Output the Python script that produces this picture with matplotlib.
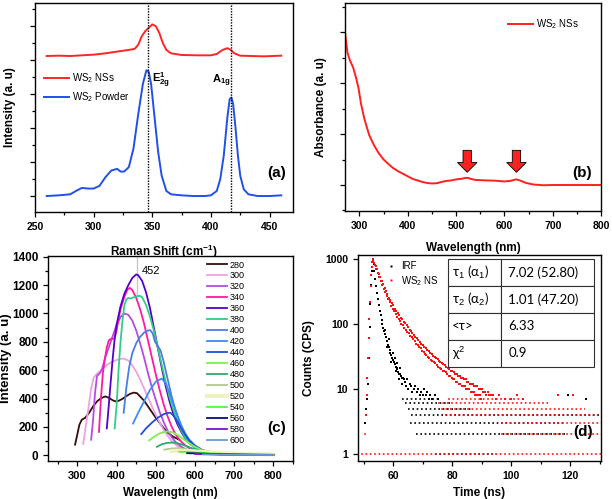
import numpy as np
import matplotlib
matplotlib.use('Agg')
import matplotlib.pyplot as plt
from matplotlib.ticker import MultipleLocator, FixedLocator, FixedFormatter, NullLocator, NullFormatter
from matplotlib.lines import Line2D

plt.rcParams['font.family'] = ['Liberation Sans', 'DejaVu Sans']
plt.rcParams['mathtext.fontset'] = 'custom'
plt.rcParams['mathtext.rm'] = 'Liberation Sans'
plt.rcParams['mathtext.it'] = 'Liberation Sans:italic'
plt.rcParams['mathtext.bf'] = 'Liberation Sans:bold'

# ---------------- (a) Raman ----------------
raman_x_powder = [260, 270, 280, 285, 290, 295, 300, 305, 310, 315, 320, 323, 326, 330, 334, 338, 342, 345, 347, 349,
                  352, 355, 358, 362, 366, 375, 385, 395, 400, 405, 408, 411, 414, 416, 417.5, 419, 421, 423, 425,
                  428, 432, 440, 450, 460]
raman_y_powder = [0.0, 0.02, 0.05, 0.15, 0.24, 0.22, 0.22, 0.3, 0.55, 0.75, 0.8, 0.72, 0.72, 0.85, 1.4, 2.4, 3.3, 3.7,
                  3.65, 3.3, 2.3, 1.3, 0.6, 0.15, 0.05, 0.02, 0.0, 0.0, 0.02, 0.15, 0.5, 1.2, 2.3, 2.85, 2.9, 2.7, 2.0,
                  1.2, 0.6, 0.2, 0.05, 0.0, 0.0, 0.02]
raman_x_ns = [260, 270, 280, 290, 300, 310, 320, 330, 335, 338, 341, 344, 347, 350, 353, 356, 359, 362, 366, 375,
              390, 400, 405, 410, 414, 417, 420, 425, 435, 445, 460]
raman_y_ns = [4.12, 4.13, 4.12, 4.14, 4.16, 4.2, 4.25, 4.3, 4.33, 4.45, 4.7, 4.85, 4.95, 5.05, 5.0, 4.8, 4.5, 4.3,
              4.2, 4.15, 4.14, 4.14, 4.18, 4.3, 4.35, 4.3, 4.2, 4.13, 4.12, 4.11, 4.13]
raman_modes = [346, 417]

# ---------------- (b) Absorbance ----------------
abs_wl = [270, 275, 280, 287, 293, 298, 303, 310, 320, 330, 340, 350, 360, 370, 380, 390, 400, 410, 420, 430, 440,
          450, 460, 470, 480, 490, 500, 510, 520, 525, 530, 540, 560, 580, 600, 612, 620, 625, 632, 645, 660, 680,
          700, 750, 800]
abs_val = [3.0, 2.6, 2.45, 2.3, 2.1, 1.9, 1.6, 1.3, 0.98, 0.78, 0.62, 0.5, 0.41, 0.33, 0.27, 0.22, 0.17, 0.12, 0.09,
           0.06, 0.04, 0.03, 0.035, 0.06, 0.08, 0.09, 0.11, 0.12, 0.14, 0.14, 0.12, 0.1, 0.09, 0.085, 0.07, 0.08,
           0.1, 0.11, 0.09, 0.04, 0.01, -0.005, 0.0, 0.0, 0.0]
abs_peaks = [523, 625]

# ---------------- (c) PL spectra ----------------
exc_labels = ['280', '300', '320', '340', '360', '380', '400', '420', '440', '460', '480', '500', '520', '540',
              '560', '580', '600']
exc_colors = ['#3b0b0b', '#eea2e2', '#b44ce0', '#ff1aa0', '#5500c8', '#33cc88', '#4a7ee0', '#3b8cf5', '#1f4fd8',
              '#7cf050', '#2eaa6a', '#b0c890', '#f0f2c4', '#4cff3c', '#0a0a80', '#7d0fd0', '#6a9ad0']

wl_280 = [294, 300, 305, 311, 320, 330, 340, 350, 360, 371, 380, 390, 398, 405, 415, 425, 435, 444, 452, 460, 470,
          480, 490, 500, 510, 520, 530, 545, 560]
pl_280 = [75, 150, 215, 250, 265, 300, 345, 380, 402, 415, 406, 388, 380, 384, 398, 418, 434, 442, 438, 415, 385,
          345, 305, 265, 228, 192, 160, 130, 110]
wl_300 = [315, 320, 328, 335, 342, 350, 360, 370, 380, 390, 400, 410, 418, 430, 440, 450, 460, 470, 480, 490, 500,
          510, 520, 530, 540, 555, 570, 590, 620]
pl_300 = [80, 180, 330, 470, 550, 575, 600, 625, 645, 660, 672, 680, 682, 668, 635, 590, 535, 472, 408, 345, 285,
          230, 180, 138, 102, 65, 40, 20, 8]
wl_320 = [335, 340, 345, 350, 356, 362, 370, 380, 390, 400, 410, 420, 430, 440, 450, 460, 470, 480, 490, 500, 510,
          520, 530, 540, 550, 565, 580, 600, 630, 670]
pl_320 = [110, 250, 440, 560, 575, 600, 680, 760, 840, 920, 975, 1000, 990, 950, 880, 790, 690, 580, 480, 390, 305,
          235, 175, 130, 95, 60, 38, 20, 9, 4]
wl_340 = [355, 360, 365, 370, 375, 380, 385, 390, 395, 400, 405, 410, 420, 428, 434, 440, 450, 460, 470, 480, 490,
          500, 510, 520, 530, 540, 550, 560, 575, 590, 610, 640, 680, 720]
pl_340 = [165, 400, 580, 680, 760, 810, 820, 822, 825, 880, 960, 1030, 1120, 1170, 1180, 1165, 1110, 1030, 930, 810,
          690, 570, 460, 360, 275, 205, 150, 110, 70, 42, 22, 10, 4, 2]
wl_360 = [375, 380, 385, 390, 395, 400, 410, 420, 430, 440, 450, 455, 465, 475, 485, 495, 505, 515, 525, 535, 545,
          555, 565, 575, 590, 610, 630, 660, 700, 750]
pl_360 = [190, 350, 520, 680, 820, 920, 1050, 1140, 1200, 1250, 1275, 1270, 1230, 1150, 1040, 900, 760, 620, 490,
          380, 290, 220, 165, 120, 75, 40, 22, 10, 4, 2]
wl_380 = [395, 400, 405, 410, 415, 420, 425, 430, 435, 440, 450, 458, 465, 475, 485, 495, 505, 515, 525, 535, 545,
          555, 565, 575, 590, 610, 630, 660, 700, 750]
pl_380 = [190, 350, 600, 800, 950, 1060, 1100, 1110, 1105, 1110, 1120, 1125, 1115, 1060, 980, 880, 760, 640, 520,
          410, 320, 240, 175, 125, 75, 40, 22, 10, 5, 3]
wl_400 = [418, 425, 432, 440, 450, 460, 470, 480, 486, 492, 498, 505, 512, 520, 530, 540, 550, 560, 570, 580, 595,
          615, 640, 680, 730]
pl_400 = [300, 480, 620, 720, 790, 835, 865, 880, 882, 860, 800, 770, 740, 660, 540, 420, 320, 240, 175, 125, 75, 38,
          18, 7, 3]
wl_420 = [442, 455, 470, 485, 500, 515, 525, 535, 545, 555, 565, 575, 585, 600, 620, 645, 680, 740]
pl_420 = [224, 300, 380, 460, 520, 541, 510, 440, 360, 280, 210, 155, 112, 70, 36, 16, 7, 3]
wl_440 = [463, 475, 490, 505, 520, 530, 537, 545, 555, 565, 575, 585, 600, 620, 650, 700, 760]
pl_440 = [150, 190, 230, 265, 290, 298, 300, 280, 240, 190, 145, 105, 65, 35, 15, 5, 2]
wl_460 = [483, 495, 510, 525, 540, 555, 570, 585, 600, 620, 650, 700, 760]
pl_460 = [105, 130, 155, 168, 165, 145, 115, 85, 60, 35, 17, 6, 2]
wl_480 = [503, 515, 530, 545, 560, 575, 590, 610, 640, 680, 740]
pl_480 = [60, 78, 88, 90, 82, 68, 52, 35, 18, 8, 3]
wl_500 = [522, 540, 555, 570, 590, 620, 660, 720, 800]
pl_500 = [40, 48, 50, 46, 38, 25, 12, 5, 2]
wl_520 = [540, 560, 580, 600, 640, 680, 720, 760, 800]
pl_520 = [30, 32, 30, 27, 20, 14, 10, 8, 6]
wl_540 = [560, 580, 600, 640, 680, 720, 760, 800]
pl_540 = [25, 24, 20, 14, 10, 8, 6, 5]
wl_560 = [580, 600, 640, 680, 720, 760, 800]
pl_560 = [15, 14, 10, 7, 5, 4, 3]
wl_580 = [600, 640, 680, 720, 760, 800]
pl_580 = [10, 8, 6, 4, 3, 2]
wl_600 = [620, 660, 700, 740, 800]
pl_600 = [6, 5, 4, 3, 2]
pl_peak = 452

# ---------------- (d) TCSPC ----------------
irf_t = [50.4, 50.8, 51.1, 51.4, 51.7, 52.0, 52.2, 52.4, 52.6, 52.8, 53.0, 53.3, 53.6, 53.9, 54.2, 54.5, 54.8, 55.1,
         55.4, 55.7, 56.0, 56.3, 56.6, 56.9, 57.2, 57.3, 57.5, 57.8, 57.9, 58.1, 58.4, 58.6, 58.7, 59.0, 59.2, 59.3,
         59.6, 59.8, 59.9, 60.2, 60.4, 60.5, 60.8, 60.9, 61.1, 61.3, 61.4, 61.7, 61.9, 62.0, 62.3, 62.4, 62.6, 62.9,
         63.0, 63.2, 63.5, 63.8, 64.2, 64.6, 65.0, 65.5, 66.0, 66.5, 67.0, 67.5, 68.0, 68.5, 69.0, 69.5, 70.0, 70.5,
         71.0, 71.5, 72.0, 72.5, 73.0, 74.0, 75.0, 119.2, 125.3]
irf_c = [3, 5, 7, 12, 30, 90, 200, 400, 650, 900, 1000, 850, 650, 500, 380, 300, 240, 195, 160, 135, 115, 100, 88, 78,
         70, 80, 62, 55, 45, 48, 44, 58, 40, 36, 26, 33, 30, 36, 28, 26, 30, 24, 22, 19, 21, 25, 20, 18, 14, 17, 17,
         21, 16, 15, 12, 15, 14, 13, 11, 14, 10, 12, 11, 9, 10, 11, 9, 10, 8, 9, 8, 10, 8, 9, 7, 8, 7, 8, 7, 8, 7]
ns_t = [50.6, 50.9, 51.2, 51.5, 51.7, 51.9, 52.1, 52.3, 52.5, 52.7, 52.85, 53.0, 53.25, 53.5, 53.75, 54.0, 54.25,
        54.5, 54.75, 55.0, 55.25, 55.5, 55.75, 56.0, 56.25, 56.5, 56.75, 57.0, 57.25, 57.5, 57.75, 58.0, 58.25, 58.5,
        58.75, 59.0, 59.25, 59.5, 59.75, 60.0, 60.25, 60.5, 60.75, 61.0, 61.25, 61.5, 61.75, 62.0, 62.25, 62.5, 62.75,
        63.0, 63.25, 63.5, 63.75, 64.0, 64.25, 64.5, 64.75, 65.0, 65.25, 65.5, 65.75, 66.0, 66.25, 66.5, 66.75, 67.0,
        67.25, 67.5, 67.75, 68.0, 68.25, 68.5, 68.75, 69.0, 69.25, 69.5, 69.75, 70.0, 70.25, 70.5, 70.75, 71.0,
        71.25, 71.5, 71.75, 72.0, 72.25, 72.5, 72.75, 73.0, 73.25, 73.5, 73.75, 74.0, 74.25, 74.5, 74.75, 75.0,
        75.25, 75.5, 75.75, 76.0, 76.25, 76.5, 76.75, 77.0, 77.25, 77.5, 77.75, 78.0, 78.25, 78.5, 78.75, 79.0,
        79.25, 79.5, 79.75, 80.0, 80.25, 80.5, 80.75, 81.0, 81.25, 81.5, 81.75, 82.0, 82.25, 82.5, 82.75, 83.0,
        83.25, 83.5, 83.75, 84.0, 84.25, 84.5, 84.75, 85.0, 85.25, 85.5, 85.75, 86.0, 86.25, 86.5, 86.75, 87.0,
        87.25, 87.5, 87.75, 88.0, 88.25, 88.5, 88.75, 89.0, 89.25, 89.5, 89.75, 90.0, 90.5, 91.0, 91.5, 92.0, 92.5,
        93.0, 94.0, 95.0, 96.0, 98.0, 100.0, 102.0, 104.0, 116.0, 121.0]
ns_c = [4, 8, 15, 30, 60, 120, 220, 380, 560, 760, 900, 1000, 930, 880, 800, 780, 700, 690, 610, 590, 530, 520, 460,
        450, 400, 410, 350, 360, 310, 320, 270, 290, 240, 255, 215, 235, 190, 210, 170, 195, 160, 170, 140, 160, 130,
        145, 118, 138, 110, 125, 100, 118, 95, 108, 88, 102, 82, 95, 76, 90, 72, 82, 66, 78, 62, 72, 58, 68, 55, 63,
        50, 60, 48, 56, 44, 53, 42, 49, 39, 47, 37, 44, 35, 42, 33, 40, 31, 38, 30, 36, 28, 34, 27, 32, 26, 31, 25,
        30, 23, 29, 22, 27, 21, 26, 20, 25, 19, 24, 19, 23, 18, 22, 17, 21, 16, 20, 16, 19, 15, 19, 14, 18, 14, 17,
        13, 17, 13, 16, 12, 16, 12, 15, 11, 15, 11, 14, 11, 14, 10, 13, 10, 13, 10, 12, 9, 12, 9, 12, 9, 11, 8, 11, 8,
        11, 8, 10, 8, 10, 7, 10, 9, 9, 8, 9, 8, 8, 8, 7, 8, 7, 7, 8, 7, 8, 8]
# low-count floor levels: count, start time, end time
irf_floor_c = [1, 2, 3, 4, 5, 6, 7]
irf_floor_t0 = [74.0, 67.8, 65.5, 66.0, 65.0, 64.0, 63.0]
irf_floor_t1 = [95.0, 118.6, 118.6, 130.5, 87.0, 80.0, 76.0]
ns_floor_c = [1, 2, 2, 3, 3, 4, 5, 6, 7]
ns_floor_t0 = [48.5, 49.5, 96.0, 49.5, 96.0, 77.0, 75.5, 74.5, 78.0]
ns_floor_t1 = [130.5, 51.0, 130.5, 51.5, 130.5, 130.5, 125.0, 113.0, 105.0]
fit_rows = [['τ$_1$ (α$_1$)', '7.02 (52.80)'],
            ['τ$_2$ (α$_2$)', '1.01 (47.20)'],
            ['<τ>', '6.33'],
            ['χ$^2$', '0.9']]

# ======================================================
W, H = 612, 499
fig = plt.figure(figsize=(W / 100, H / 100), dpi=100)


def px_axes(l, t, r, b):
    return fig.add_axes([l / W, 1 - b / H, (r - l) / W, (b - t) / H])


TICK = 7.5
LAB = 8.5
BOLD = 'bold'


def style(ax, xsize=TICK, ysize=TICK):
    for s in ax.spines.values():
        s.set_linewidth(1.0)
    ax.tick_params(which='both', direction='out', top=False, right=False, width=0.9)
    ax.tick_params(which='major', length=3.5)
    ax.tick_params(axis='x', which='major', labelsize=xsize)
    ax.tick_params(axis='y', which='major', labelsize=ysize)
    ax.tick_params(which='minor', length=2)
    for lab in ax.get_xticklabels() + ax.get_yticklabels():
        lab.set_fontweight(BOLD)


# ---- (a)
axa = px_axes(35, 3, 293, 212)
axa.plot(raman_x_ns, raman_y_ns, color='#ff2525', lw=1.4, label='WS$_2$ NSs')
axa.plot(raman_x_powder, raman_y_powder, color='#2050e6', lw=1.4, label='WS$_2$ Powder')
for m in raman_modes:
    axa.axvline(m, color='black', ls=(0, (1, 1)), lw=1.0)
axa.set_xlim(250, 470)
axa.set_ylim(-0.47, 5.68)
axa.xaxis.set_major_locator(MultipleLocator(50))
axa.xaxis.set_minor_locator(MultipleLocator(25))
axa.yaxis.set_major_locator(MultipleLocator(1))
axa.yaxis.set_minor_locator(MultipleLocator(0.5))
axa.yaxis.set_major_formatter(NullFormatter())
style(axa)
axa.set_xlabel('Raman Shift (cm$\\mathbf{^{-1}}$)', fontsize=LAB, fontweight=BOLD)
axa.set_ylabel('Intensity (a. u)', fontsize=LAB, fontweight=BOLD)
axa.xaxis.set_label_coords(0.5, -0.145)
axa.yaxis.set_label_coords(-0.075, 0.5)
axa.text(350, 3.4, '$\\mathbf{E^1_{2g}}$', fontsize=8, va='center', ha='left')
axa.text(401, 3.38, '$\\mathbf{A_{1g}}$', fontsize=8, va='center', ha='left')
axa.text(456, 0.68, '(a)', fontsize=11, fontweight=BOLD, ha='center', va='center')
axa.legend(loc='upper left', bbox_to_anchor=(0.02, 0.69), frameon=False, fontsize=7, handlelength=2.6,
           handletextpad=0.3, labelspacing=0.5, borderaxespad=0)

# ---- (b)
axb = px_axes(345, 3, 601, 211)
axb.plot(abs_wl, abs_val, color='#ff2020', lw=1.4, label='WS$_2$ NSs')
for p in abs_peaks:
    axb.annotate('', xy=(p, 0.25), xytext=(p, 0.68),
                 arrowprops=dict(arrowstyle='simple,head_length=0.35,head_width=0.7,tail_width=0.3',
                                 fc='#ff2020', ec='black', lw=0.6, shrinkA=0, shrinkB=0, mutation_scale=20))
axb.set_xlim(270, 800)
axb.set_ylim(-0.51, 3.57)
axb.xaxis.set_major_locator(MultipleLocator(100))
axb.xaxis.set_minor_locator(MultipleLocator(50))
axb.yaxis.set_major_locator(MultipleLocator(1))
axb.yaxis.set_minor_locator(MultipleLocator(0.5))
axb.yaxis.set_major_formatter(NullFormatter())
style(axb)
axb.set_xlabel('Wavelength (nm)', fontsize=LAB, fontweight=BOLD)
axb.set_ylabel('Absorbance (a. u)', fontsize=LAB, fontweight=BOLD)
axb.xaxis.set_label_coords(0.5, -0.15)
axb.yaxis.set_label_coords(-0.072, 0.5)
axb.text(760, 0.235, '(b)', fontsize=11, fontweight=BOLD, ha='center', va='center')
axb.legend(loc='upper left', bbox_to_anchor=(0.62, 0.95), frameon=False, fontsize=7, handlelength=2.6,
           handletextpad=0.3, borderaxespad=0)

# ---- (c)
axc = px_axes(48, 256, 293, 461)
pl_wl = [wl_280, wl_300, wl_320, wl_340, wl_360, wl_380, wl_400, wl_420, wl_440, wl_460, wl_480, wl_500, wl_520,
         wl_540, wl_560, wl_580, wl_600]
pl_int = [pl_280, pl_300, pl_320, pl_340, pl_360, pl_380, pl_400, pl_420, pl_440, pl_460, pl_480, pl_500, pl_520,
          pl_540, pl_560, pl_580, pl_600]
for lab, col, xs, ys in zip(exc_labels, exc_colors, pl_wl, pl_int):
    lw = 3.0 if lab == '520' else 1.3
    axc.plot(xs, ys, color=col, lw=lw, label=lab)
axc.plot([pl_peak, pl_peak], [1140, 1400], color='#c8c8c8', lw=1.0, zorder=0)
axc.text(pl_peak + 12, 1300, str(pl_peak), fontsize=8, ha='left', va='center')
axc.set_xlim(225, 850)
axc.set_ylim(-40, 1405)
axc.xaxis.set_major_locator(MultipleLocator(100))
axc.xaxis.set_minor_locator(MultipleLocator(50))
axc.yaxis.set_major_locator(MultipleLocator(200))
axc.yaxis.set_minor_locator(MultipleLocator(100))
style(axc, xsize=8, ysize=8.5)
axc.set_xlabel('Wavelength (nm)', fontsize=LAB, fontweight=BOLD)
axc.set_ylabel('Intensity (a. u)', fontsize=9.5, fontweight=BOLD)
axc.xaxis.set_label_coords(0.5, -0.125)
axc.yaxis.set_label_coords(-0.148, 0.5)
axc.text(809, 193, '(c)', fontsize=11, fontweight=BOLD, ha='center', va='center')
axc.legend(loc='upper left', bbox_to_anchor=(0.63, 1.0), frameon=False, fontsize=6.5, handlelength=2.2,
           handletextpad=0.3, labelspacing=0.22, borderaxespad=0.1)

# ---- (d)
axd = px_axes(358, 255, 601, 461)
for c, t0, t1 in zip(irf_floor_c, irf_floor_t0, irf_floor_t1):
    axd.hlines(c, t0, t1, colors='black', lw=1.2, linestyles=(0, (1, 1.6)), zorder=2)
for c, t0, t1 in zip(ns_floor_c, ns_floor_t0, ns_floor_t1):
    axd.hlines(c, t0, t1, colors='#ff1010', lw=1.2, linestyles=(1.3, (1, 1.6)), zorder=2)
axd.scatter(irf_t, irf_c, s=2.5, marker='s', color='black', linewidths=0, zorder=3)
axd.scatter(ns_t, ns_c, s=2.5, marker='s', color='#ff1010', linewidths=0, zorder=3)
axd.set_yscale('log')
axd.set_xlim(48, 130.5)
axd.set_ylim(0.78, 1150)
axd.xaxis.set_major_locator(MultipleLocator(20))
axd.xaxis.set_minor_locator(MultipleLocator(10))
axd.yaxis.set_major_locator(FixedLocator([1, 10, 100, 1000]))
axd.yaxis.set_major_formatter(FixedFormatter(['1', '10', '100', '1000']))
axd.yaxis.set_minor_locator(NullLocator())
style(axd)
axd.set_xlabel('Time (ns)', fontsize=LAB, fontweight=BOLD)
axd.set_ylabel('Counts (CPS)', fontsize=LAB, fontweight=BOLD)
axd.xaxis.set_label_coords(0.5, -0.128)
axd.yaxis.set_label_coords(-0.177, 0.5)
axd.text(0.925, 0.14, '(d)', transform=axd.transAxes, fontsize=11, fontweight=BOLD, ha='center', va='center')
hd = [Line2D([], [], ls='none', marker='s', ms=1.6, color='black', mec='none'),
      Line2D([], [], ls='none', marker='s', ms=1.6, color='#ff1010', mec='none')]
axd.legend(hd, ['IRF', 'WS$_2$ NS'], loc='upper left', bbox_to_anchor=(0.1, 0.99), frameon=False, fontsize=7,
           handlelength=1.0, handletextpad=0.5, labelspacing=0.3, borderaxespad=0)
tab = axd.table(cellText=fit_rows, colWidths=[0.364, 0.636], cellLoc='left',
                bbox=[0.369, 0.458, 0.603, 0.521], zorder=5)
tab.auto_set_font_size(False)
tab.set_fontsize(9.5)
for (r, cc), cell in tab.get_celld().items():
    cell.set_edgecolor('#303030')
    cell.set_linewidth(0.8)
    cell.set_facecolor('white')
    cell.get_text().set_fontfamily(['Lato', 'DejaVu Sans'])
    cell.PAD = 0.08

fig.savefig('out.png', dpi=100)
